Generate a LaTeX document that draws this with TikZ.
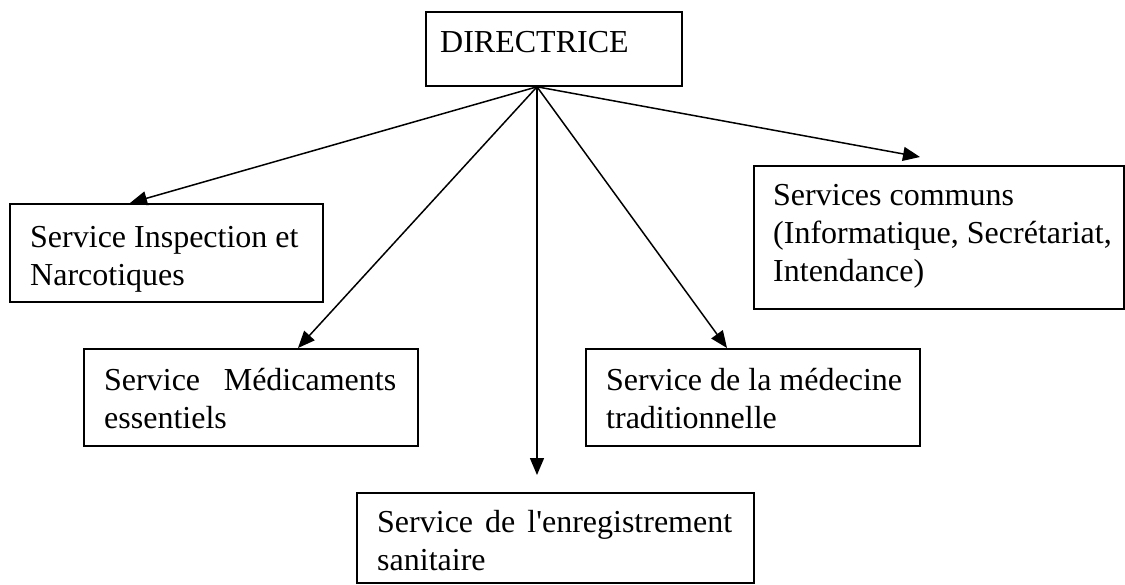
\documentclass[tikz,border=0pt]{standalone}
\usepackage{fontspec}
\setmainfont{Liberation Serif}
\usetikzlibrary{arrows.meta,calc}
\newcommand\fstrut{\rule{0pt}{24pt}}
\begin{document}
\begin{tikzpicture}[x=1pt,y=-1pt,
 box/.style={draw,line width=1.8pt,inner sep=0pt,anchor=north west},
 txt/.style={anchor=north west,inner sep=0pt,align=left,font=\fontsize{32}{38}\selectfont},
 arr/.style={line width=1.5pt,-{Triangle[length=17pt,width=14pt]}}]
\fill[white] (0,0) rectangle (1125,584);
\useasboundingbox (0,0) rectangle (1125,584);
% boxes
\node[box,minimum width=256pt,minimum height=74pt] (dir) at (425,11) {};
\node[box,minimum width=313pt,minimum height=98pt] (insp) at (9,203) {};
\node[box,minimum width=370pt,minimum height=143pt] (comm) at (753,165) {};
\node[box,minimum width=334pt,minimum height=97pt] (medic) at (83,348) {};
\node[box,minimum width=334pt,minimum height=97pt] (medec) at (585,348) {};
\node[box,minimum width=397pt,minimum height=90pt] (enreg) at (356,492) {};
% texts
\node[txt] (dirt) at (440,28) {\fstrut DIRECTRICE};
\node[txt] (inspt) at (30,223) {\fstrut Service Inspection et\\Narcotiques};
\node[txt] (commt) at (773,181) {\fstrut Services communs\\(Informatique, Secrétariat,\\Intendance)};
\node[txt,text width=292pt] (medict) at (104,366) {\fstrut Service\hfill Médicaments\\essentiels};
\node[txt] (medect) at (606,366) {\fstrut Service de la médecine\\traditionnelle};
\node[txt,text width=355pt] (enregt) at (377,508) {\fstrut Service\hfill de\hfill l\textquotesingle enregistrement\\sanitaire};
% connectors
\coordinate (o) at ($(dir.south west)+(112,0)$);
\draw[arr] (o) -- ($(insp.north west)+(121,0)$);
\draw[arr] (o) -- ($(medic.north west)+(215,0)$);
\draw[arr] (o) -- ($(enreg.north west)+(181,-17)$);
\draw[arr] (o) -- ($(medec.north west)+(142,0)$);
\draw[arr] (o) -- ($(comm.north west)+(167,-8)$);
\end{tikzpicture}
\end{document}
